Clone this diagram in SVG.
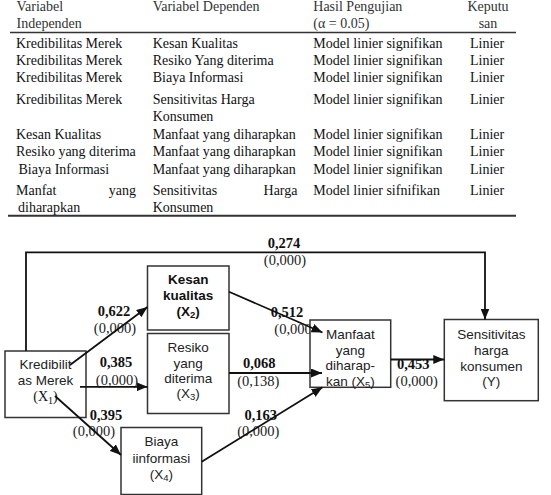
<svg xmlns="http://www.w3.org/2000/svg" width="551" height="495" viewBox="0 0 551 495">
<style>
.t{font-family:"Liberation Serif","Times New Roman",serif;font-size:14px;fill:#111}
.h{fill:#333}
.n{font-family:"Liberation Serif","Times New Roman",serif;font-size:14.5px;font-weight:bold;fill:#111;text-anchor:middle}
.p{font-family:"Liberation Serif","Times New Roman",serif;font-size:14.5px;fill:#222;text-anchor:middle}
.b{fill:#fff;stroke:#333;stroke-width:1.5}
.s{font-family:"Liberation Sans",Arial,sans-serif;font-size:13.5px;fill:#222;text-anchor:middle}
.sb{font-family:"Liberation Sans",Arial,sans-serif;font-size:13.5px;font-weight:bold;fill:#111;text-anchor:middle}
.c{fill:none;stroke:#111;stroke-width:1.8}
</style>
<defs>
<marker id="ah" markerUnits="userSpaceOnUse" markerWidth="11" markerHeight="9" refX="11" refY="4.5" orient="auto">
<path d="M0,0 L11,4.5 L0,9 z" fill="#111"/>
</marker>
</defs>

<g id="table">
<text class="t h" x="16.5" y="11">Variabel</text>
<text class="t h" x="16.5" y="28">Independen</text>
<text class="t h" x="152.7" y="11">Variabel Dependen</text>
<text class="t h" x="313.3" y="11">Hasil Pengujian</text>
<text class="t h" x="313.3" y="28">(α = 0.05)</text>
<text class="t h" x="488" y="11" text-anchor="middle">Keputu</text>
<text class="t h" x="488" y="28" text-anchor="middle">san</text>
<line x1="10" y1="32.5" x2="516" y2="32.5" stroke="#333" stroke-width="1.5"/>

<text class="t" x="16" y="48">Kredibilitas Merek</text>
<text class="t" x="152.7" y="48">Kesan Kualitas</text>
<text class="t" x="313.3" y="48">Model linier signifikan</text>
<text class="t" x="470" y="48">Linier</text>

<text class="t" x="16" y="65">Kredibilitas Merek</text>
<text class="t" x="152.7" y="65">Resiko Yang diterima</text>
<text class="t" x="313.3" y="65">Model linier signifikan</text>
<text class="t" x="470" y="65">Linier</text>

<text class="t" x="16" y="82">Kredibilitas Merek</text>
<text class="t" x="152.7" y="82">Biaya Informasi</text>
<text class="t" x="313.3" y="82">Model linier signifikan</text>
<text class="t" x="470" y="82">Linier</text>

<text class="t" x="16" y="104">Kredibilitas Merek</text>
<text class="t" x="152.7" y="104">Sensitivitas Harga</text>
<text class="t" x="152.7" y="120.5">Konsumen</text>
<text class="t" x="313.3" y="104">Model linier signifikan</text>
<text class="t" x="470" y="104">Linier</text>

<text class="t" x="16" y="138.5">Kesan Kualitas</text>
<text class="t" x="152.7" y="138.5">Manfaat yang diharapkan</text>
<text class="t" x="313.3" y="138.5">Model linier signifikan</text>
<text class="t" x="470" y="138.5">Linier</text>

<text class="t" x="16" y="156">Resiko yang diterima</text>
<text class="t" x="152.7" y="156">Manfaat yang diharapkan</text>
<text class="t" x="313.3" y="156">Model linier signifikan</text>
<text class="t" x="470" y="156">Linier</text>

<text class="t" x="18.5" y="173.5">Biaya Informasi</text>
<text class="t" x="152.7" y="173.5">Manfaat yang diharapkan</text>
<text class="t" x="313.3" y="173.5">Model linier signifikan</text>
<text class="t" x="470" y="173.5">Linier</text>

<text class="t" x="16" y="194.5">Manfat</text>
<text class="t" x="136" y="194.5" text-anchor="end">yang</text>
<text class="t" x="18" y="211.5">diharapkan</text>
<text class="t" x="152.7" y="194.5">Sensitivitas</text>
<text class="t" x="297.5" y="194.5" text-anchor="end">Harga</text>
<text class="t" x="152.7" y="211.5">Konsumen</text>
<text class="t" x="313.3" y="194.5">Model linier sifnifikan</text>
<text class="t" x="470" y="194.5">Linier</text>
<line x1="8" y1="215.8" x2="516" y2="215.8" stroke="#333" stroke-width="2"/>
</g>

<g id="labels">
<text class="n" x="284" y="247.5">0,274</text>
<text class="p" x="285" y="264.5">(0,000)</text>
<text class="n" x="114" y="315.5">0,622</text>
<text class="p" x="115" y="333">(0,000)</text>
<text class="n" x="116" y="367">0,385</text>
<text class="p" x="117" y="385">(0,000)</text>
<text class="n" x="106" y="419.5">0,395</text>
<text class="p" x="94" y="436">(0,000)</text>
<text class="n" x="287" y="317">0,512</text>
<text class="p" x="295.5" y="333.5">(0,000)</text>
<text class="n" x="259.3" y="368">0,068</text>
<text class="p" x="258.3" y="385.5">(0,138)</text>
<text class="n" x="260.7" y="419.5">0,163</text>
<text class="p" x="258.3" y="436">(0,000)</text>
<text class="n" x="413.3" y="369">0,453</text>
<text class="p" x="416.7" y="386">(0,000)</text>
</g>

<g id="x1">
<rect class="b" x="5" y="351" width="81" height="66.5"/>
<text class="s" x="45.5" y="368.5">Kredibilit</text>
<text class="s" x="45.5" y="384.5">as Merek</text>
<text class="t" x="45.5" y="401" text-anchor="middle">(X<tspan font-size="10" dy="3">1</tspan><tspan dy="-3">)</tspan></text>
</g>
<g id="x2">
<rect class="b" x="147.5" y="266" width="81.5" height="64"/>
<text class="sb" x="188.2" y="284">Kesan</text>
<text class="sb" x="188.2" y="299.5">kualitas</text>
<text class="sb" x="188.2" y="316">(X<tspan font-size="9.5" dy="2">2</tspan><tspan dy="-2">)</tspan></text>
</g>
<g id="x3">
<rect class="b" x="147.5" y="333.5" width="81.5" height="80"/>
<text class="s" x="188.2" y="352">Resiko</text>
<text class="s" x="188.2" y="367.5">yang</text>
<text class="s" x="188.2" y="383">diterima</text>
<text class="s" x="188.2" y="398">(X<tspan font-size="9.5" dy="2">3</tspan><tspan dy="-2">)</tspan></text>
</g>
<g id="x4">
<rect class="b" x="121" y="427.5" width="80.7" height="67"/>
<text class="s" x="161.3" y="446">Biaya</text>
<text class="s" x="161.3" y="463">iinformasi</text>
<text class="s" x="161.3" y="479">(X<tspan font-size="9.5" dy="2">4</tspan><tspan dy="-2">)</tspan></text>
</g>
<g id="x5">
<rect class="b" x="310" y="320" width="80.7" height="67.3"/>
<text class="s" x="350.3" y="339">Manfaat</text>
<text class="s" x="350.3" y="354.5">yang</text>
<text class="s" x="350.3" y="370">diharap-</text>
<text class="s" x="350.3" y="385.5">kan (X<tspan font-size="9.5" dy="2">5</tspan><tspan dy="-2">)</tspan></text>
</g>
<g id="y">
<rect class="b" x="444.3" y="319.5" width="94" height="81.2"/>
<text class="s" x="491.3" y="339">Sensitivitas</text>
<text class="s" x="491.3" y="354.5">harga</text>
<text class="s" x="491.3" y="370.5">konsumen</text>
<text class="s" x="491.3" y="386">(Y)</text>
</g>

<g id="connectors">
<path class="c" d="M26,351 V252.3 H485 V319.5" stroke-width="1.5" marker-end="url(#ah)"/>
<line class="c" x1="70" y1="365" x2="147.5" y2="307" marker-end="url(#ah)"/>
<line class="c" x1="80" y1="386.8" x2="147.5" y2="386.8" marker-end="url(#ah)"/>
<line class="c" x1="55" y1="396" x2="121" y2="455" marker-end="url(#ah)"/>
<line class="c" x1="229" y1="291.7" x2="322.5" y2="332.5" marker-end="url(#ah)"/>
<line class="c" x1="229" y1="373" x2="322" y2="373" marker-end="url(#ah)"/>
<line class="c" x1="201.7" y1="461.7" x2="322.5" y2="387.3" marker-end="url(#ah)"/>
<line class="c" x1="390.7" y1="359.5" x2="444.3" y2="359.5" marker-end="url(#ah)"/>
</g>
</svg>
